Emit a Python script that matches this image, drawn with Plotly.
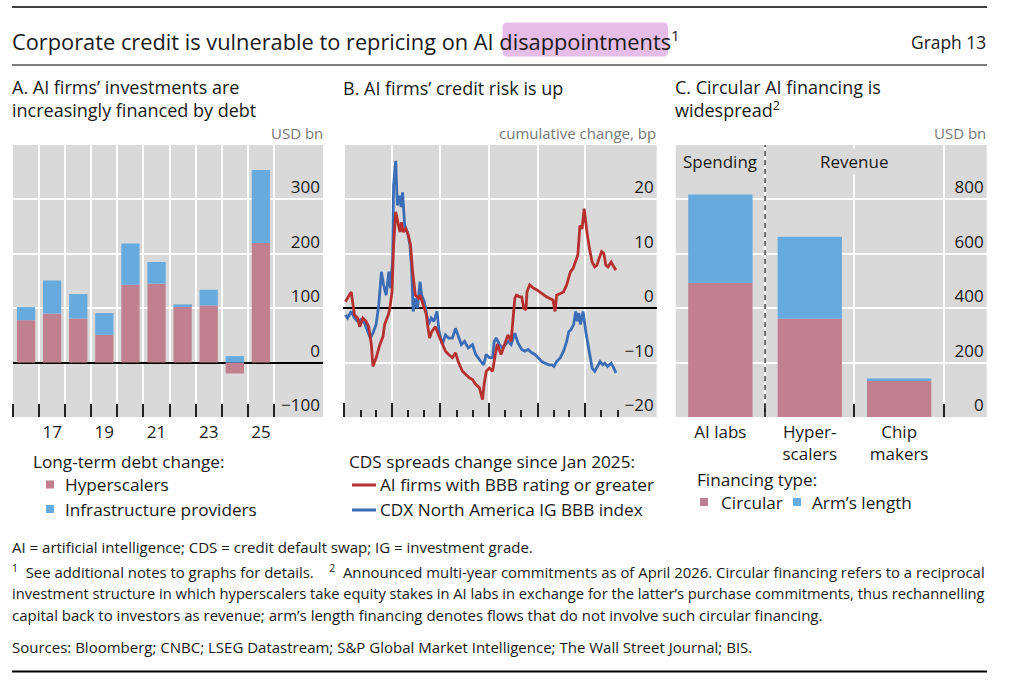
import plotly.graph_objects as go

W, H = 1016, 693

# ---------------- data ----------------
# Panel A: long-term debt change, USD bn
years = list(range(2016, 2026))
hyperscalers = [78, 90, 81, 51, 143, 145, 104, 105, -20, 220]
infrastructure = [24, 61, 45, 40, 76, 40, 3, 29, 12, 134]
year_ticks = [2017, 2019, 2021, 2023, 2025]
year_labels = ["17", "19", "21", "23", "25"]
a_yticks = [-100, 0, 100, 200, 300]

# Panel B: CDS spreads, cumulative change since Jan 2025, bp
ai_dates = [
    "2025-01-03", "2025-01-14", "2025-01-20", "2025-01-26", "2025-01-30", "2025-02-05",
    "2025-02-11", "2025-02-16", "2025-02-21", "2025-02-24", "2025-03-02", "2025-03-09",
    "2025-03-15", "2025-03-18", "2025-03-25", "2025-03-28", "2025-04-01", "2025-04-04",
    "2025-04-08", "2025-04-13", "2025-04-16", "2025-04-19", "2025-04-22", "2025-04-27",
    "2025-05-02", "2025-05-06", "2025-05-10", "2025-05-15", "2025-05-21", "2025-05-24",
    "2025-05-30", "2025-06-05", "2025-06-07", "2025-06-11", "2025-06-15", "2025-06-22",
    "2025-06-28", "2025-07-05", "2025-07-11", "2025-07-17", "2025-07-24", "2025-07-30",
    "2025-08-04", "2025-08-12", "2025-08-18", "2025-08-25", "2025-08-31", "2025-09-06",
    "2025-09-13", "2025-09-19", "2025-09-22", "2025-09-26", "2025-10-02", "2025-10-08",
    "2025-10-13", "2025-10-17", "2025-10-24", "2025-10-31", "2025-11-06", "2025-11-12",
    "2025-11-16", "2025-11-19", "2025-11-22", "2025-11-28", "2025-12-02", "2025-12-06",
    "2025-12-10", "2025-12-12", "2025-12-17", "2025-12-24", "2025-12-30", "2026-01-05",
    "2026-01-12", "2026-01-18", "2026-01-24", "2026-01-30", "2026-02-03", "2026-02-06",
    "2026-02-13", "2026-02-19", "2026-02-25", "2026-03-01", "2026-03-04", "2026-03-09",
    "2026-03-14", "2026-03-18", "2026-03-22", "2026-03-26", "2026-03-30", "2026-04-02",
    "2026-04-05", "2026-04-10", "2026-04-14", "2026-04-19", "2026-04-23", "2026-04-27",
    "2026-05-02", "2026-05-06", "2026-05-10", "2026-05-14", "2026-05-20", "2026-05-25",
    "2026-05-29",
]
ai_bbb = [
    1.2, 3.0, -1.2, -1.8, -3.4, -1.8,
    -2.4, -3.4, -6.7, -10.7, -9.1, -6.7,
    -5.2, -3.0, -1.2, 0.0, 3.0, 11.6,
    17.7, 15.2, 14.0, 15.8, 14.0, 14.6,
    13.4, 11.6, 6.7, 2.4, 1.8, 2.4,
    0.6, -1.2, -3.0, -5.5, -4.3, -3.4,
    -4.9, -6.7, -7.9, -8.5, -9.1, -8.2,
    -9.8, -11.6, -12.2, -12.8, -13.1, -14.0,
    -14.6, -16.8, -14.0, -11.6, -11.0, -11.6,
    -8.5, -6.6, -8.5, -6.7, -4.9, -6.1,
    -1.8, 1.8, 2.4, 2.1, 2.1, 0.0,
    -0.3, 3.0, 4.3, 3.7, 3.4, 3.0,
    2.4, 2.1, 1.8, 1.5, -0.6, 2.4,
    2.7, 3.0, 4.3, 5.5, 6.7, 7.3,
    8.5, 9.8, 15.2, 14.6, 18.3, 15.2,
    13.4, 10.4, 8.5, 7.6, 7.9, 9.1,
    10.4, 10.1, 7.9, 7.6, 8.5, 7.6,
    7.0,
]
cdx_dates = [
    "2025-01-03", "2025-01-07", "2025-01-14", "2025-01-20", "2025-01-26", "2025-02-01",
    "2025-02-08", "2025-02-14", "2025-02-19", "2025-02-24", "2025-03-02", "2025-03-07",
    "2025-03-12", "2025-03-16", "2025-03-21", "2025-03-26", "2025-03-29", "2025-04-02",
    "2025-04-04", "2025-04-08", "2025-04-11", "2025-04-15", "2025-04-18", "2025-04-21",
    "2025-04-25", "2025-04-30", "2025-05-05", "2025-05-08", "2025-05-11", "2025-05-15",
    "2025-05-19", "2025-05-24", "2025-05-27", "2025-06-01", "2025-06-05", "2025-06-09",
    "2025-06-14", "2025-06-19", "2025-06-25", "2025-06-29", "2025-07-05", "2025-07-11",
    "2025-07-17", "2025-07-24", "2025-07-30", "2025-08-04", "2025-08-10", "2025-08-16",
    "2025-08-23", "2025-08-31", "2025-09-06", "2025-09-16", "2025-09-21", "2025-09-26",
    "2025-10-02", "2025-10-08", "2025-10-11", "2025-10-15", "2025-10-21", "2025-10-27",
    "2025-11-06", "2025-11-12", "2025-11-19", "2025-11-25", "2025-12-02", "2025-12-08",
    "2025-12-14", "2025-12-21", "2025-12-27", "2026-01-02", "2026-01-09", "2026-01-15",
    "2026-01-22", "2026-01-28", "2026-02-01", "2026-02-06", "2026-02-13", "2026-02-19",
    "2026-02-25", "2026-03-01", "2026-03-05", "2026-03-10", "2026-03-14", "2026-03-17",
    "2026-03-20", "2026-03-23", "2026-03-28", "2026-04-02", "2026-04-06", "2026-04-10",
    "2026-04-14", "2026-04-19", "2026-04-24", "2026-04-29", "2026-05-04", "2026-05-08",
    "2026-05-13", "2026-05-20", "2026-05-25", "2026-05-29",
]
cdx_bbb = [
    -1.2, -1.8, -0.6, -1.8, -2.4, -2.1,
    -2.7, -4.3, -5.5, -4.6, -3.0, 0.6,
    6.7, 4.3, 2.4, 6.7, 3.7, 8.5,
    22.6, 27.1, 18.9, 20.7, 18.6, 21.3,
    15.2, 14.0, 11.6, 7.3, -0.6, 1.8,
    0.0, 4.9, 2.4, 1.2, -1.2, -3.0,
    -1.8, -2.4, -0.6, -4.3, -6.7, -4.9,
    -5.5, -5.5, -3.7, -4.9, -6.7, -6.1,
    -7.3, -6.7, -8.5, -9.8, -10.4, -8.5,
    -9.1, -9.1, -6.1, -5.5, -6.7, -7.3,
    -6.1, -6.7, -4.6, -6.4, -7.6, -7.9,
    -7.6, -8.2, -8.5, -9.1, -9.8, -10.1,
    -10.4, -10.4, -10.7, -9.8, -9.1, -7.9,
    -6.1, -4.3, -4.0, -3.0, -0.6, -2.4,
    -0.9, -3.0, -0.6, -4.3, -6.7, -9.1,
    -11.0, -11.6, -10.7, -9.8, -10.4, -10.1,
    -10.7, -10.1, -11.0, -11.9,
]
quarter_starts = ["2025-01-01", "2025-04-01", "2025-07-01", "2025-10-01", "2026-01-01", "2026-04-01"]
month_starts = ["2025-02-01", "2025-03-01", "2025-05-01", "2025-06-01", "2025-08-01", "2025-09-01",
                "2025-11-01", "2025-12-01", "2026-02-01", "2026-03-01", "2026-05-01", "2026-06-01"]
quarter_label_dates = ["2025-05-16", "2025-11-15", "2026-05-16"]
quarter_labels = ["Q2 25", "Q4 25", "Q2 26"]
b_yticks = [-20, -10, 0, 10, 20]

# Panel C: announced multi-year commitments, USD bn
entities = ["AI labs", "Hyper-<br>scalers", "Chip<br>makers"]
circular = [493, 361, 135]
arms_length = [325, 302, 7]
c_yticks = [0, 200, 400, 600, 800]

# ---------------- style ----------------
FONT = "Open Sans"
TXT = "#1a1a1a"
GREY_TXT = "#777777"
BG = "#d9d9d9"
PINK = "#c1808f"
LBLUE = "#66aade"
RED = "#b5302f"
DBLUE = "#3a6db5"
TICK = 17
LEG = 17.2


def X(p):
    return p / W


def Y(p):
    return 1 - p / H


top, bottom = 145, 417
ydom = [Y(bottom), Y(top)]

fig = go.Figure()

# Panel A bars
fig.add_trace(go.Bar(x=years, y=hyperscalers, name="Hyperscalers", marker=dict(color=PINK, line=dict(width=0)),
                     width=0.7, xaxis="x", yaxis="y", showlegend=False))
fig.add_trace(go.Bar(x=years, y=infrastructure, name="Infrastructure providers",
                     marker=dict(color=LBLUE, line=dict(width=0)),
                     width=0.7, xaxis="x", yaxis="y", showlegend=False))

# Panel B lines (blue drawn first, red on top)
fig.add_trace(go.Scatter(x=cdx_dates, y=cdx_bbb, mode="lines", name="CDX North America IG BBB index",
                         line=dict(color=DBLUE, width=2.8), xaxis="x2", yaxis="y2", showlegend=False))
fig.add_trace(go.Scatter(x=ai_dates, y=ai_bbb, mode="lines", name="AI firms with BBB rating or greater",
                         line=dict(color=RED, width=2.8), xaxis="x2", yaxis="y2", showlegend=False))

# Panel C bars
cx = list(range(len(entities)))
fig.add_trace(go.Bar(x=cx, y=circular, name="Circular", marker=dict(color=PINK, line=dict(width=0)),
                     width=0.72, xaxis="x3", yaxis="y3", showlegend=False))
fig.add_trace(go.Bar(x=cx, y=arms_length, name="Arm’s length", marker=dict(color=LBLUE, line=dict(width=0)),
                     width=0.72, xaxis="x3", yaxis="y3", showlegend=False))

tickfont = dict(family=FONT, size=TICK, color=TXT)

yax_common = dict(side="right", ticklabelposition="inside top", ticks="", showline=False,
                  showgrid=True, gridcolor="white", gridwidth=1.5, tickfont=tickfont,
                  domain=ydom, fixedrange=True)

layout = dict(
    width=W, height=H, margin=dict(l=0, r=0, t=0, b=0),
    paper_bgcolor="white", plot_bgcolor=BG, barmode="relative", showlegend=False,
    font=dict(family=FONT, color=TXT),
    # Panel A
    xaxis=dict(domain=[X(13), X(323)], anchor="y", range=[2015.5, 2027.38],
               tickmode="array", tickvals=year_ticks, ticktext=year_labels, ticks="",
               showgrid=False, zeroline=False, showline=False, tickfont=tickfont, ticklabelstandoff=3,
               minor=dict(tickmode="array", tickvals=[y - 0.5 for y in years] + [years[-1] + 0.5],
                          ticks="inside", ticklen=13, tickwidth=2, tickcolor="#222222",
                          showgrid=True, gridcolor="white", gridwidth=1.5)),
    yaxis=dict(anchor="x", range=[-100, 400], tickmode="array", tickvals=a_yticks,
               zeroline=True, zerolinecolor="black", zerolinewidth=1.5, **yax_common),
    # Panel B
    xaxis2=dict(domain=[X(343.3), X(656.7)], anchor="y2", type="date",
                range=["2024-12-30", "2026-08-14"], tickmode="array", tickvals=quarter_starts,
                showticklabels=False, ticks="inside", ticklen=14, tickwidth=2, tickcolor="#222222",
                showgrid=True, gridcolor="white", gridwidth=1.5, zeroline=False, showline=False,
                minor=dict(tickmode="array", tickvals=month_starts, ticks="inside", ticklen=7,
                           tickwidth=2, tickcolor="#222222", showgrid=False)),
    xaxis5=dict(overlaying="x2", anchor="y2", type="date", range=["2024-12-30", "2026-08-14"],
                tickmode="array", tickvals=quarter_label_dates, ticktext=quarter_labels, ticks="",
                showgrid=False, zeroline=False, showline=False, tickfont=tickfont, ticklabelstandoff=3),
    yaxis2=dict(anchor="x2", range=[-20, 30], tickmode="array", tickvals=b_yticks,
                zeroline=True, zerolinecolor="black", zerolinewidth=1.5, **yax_common),
    # Panel C
    xaxis3=dict(domain=[X(675.7), X(986.7)], anchor="y3", range=[-0.5, 2.98],
                tickmode="array", tickvals=cx, ticktext=entities, ticks="",
                showgrid=False, zeroline=False, showline=False, tickfont=tickfont, ticklabelstandoff=3,
                minor=dict(tickmode="array", tickvals=[0.5, 1.5, 2.5], ticks="inside", ticklen=13,
                           tickwidth=2, tickcolor="#222222", showgrid=True, gridcolor="white", gridwidth=1.5)),
    yaxis3=dict(anchor="x3", range=[0, 1000], tickmode="array", tickvals=c_yticks,
                zeroline=False, **yax_common),
)
fig.update_layout(**layout)

shapes = []
annotations = []


def text(s, x, y, size=LEG, xanchor="left", yanchor="middle", color=TXT, **kw):
    annotations.append(dict(text=s, x=X(x), y=Y(y), xref="paper", yref="paper", xanchor=xanchor,
                            yanchor=yanchor, showarrow=False, align="left", borderpad=0,
                            font=dict(family=FONT, size=size, color=color), **kw))


def hline(y, x0=12, x1=987, w=1.5):
    shapes.append(dict(type="line", xref="paper", yref="paper", x0=X(x0), x1=X(x1), y0=Y(y), y1=Y(y),
                       line=dict(color="black", width=w)))


def square(x0, yc, color, s=8):
    shapes.append(dict(type="rect", xref="paper", yref="paper", x0=X(x0), x1=X(x0 + s),
                       y0=Y(yc + s / 2), y1=Y(yc - s / 2), fillcolor=color, line=dict(width=0)))


def seg(x0, x1, yc, color):
    shapes.append(dict(type="line", xref="paper", yref="paper", x0=X(x0), x1=X(x1), y0=Y(yc), y1=Y(yc),
                       line=dict(color=color, width=3)))


# rules
hline(7, w=1.5)
hline(65, w=1.2)
hline(671.5, w=2)

# title highlight (rounded box)
hx0, hx1, hy0, hy1, r = 502.5, 668, 22.5, 56.5, 5
rx, ry = r / W, r / H
a0, a1, b0, b1 = X(hx0), X(hx1), Y(hy1), Y(hy0)
path = (f"M{a0 + rx},{b0} L{a1 - rx},{b0} Q{a1},{b0} {a1},{b0 + ry} L{a1},{b1 - ry} Q{a1},{b1} {a1 - rx},{b1} "
        f"L{a0 + rx},{b1} Q{a0},{b1} {a0},{b1 - ry} L{a0},{b0 + ry} Q{a0},{b0} {a0 + rx},{b0} Z")
shapes.append(dict(type="path", xref="paper", yref="paper", path=path, fillcolor="#e6bde6",
                   line=dict(width=0), layer="below"))

text("Corporate credit is vulnerable to repricing on AI disappointments<sup>1</sup>", 11, 40, size=21.8)
text("Graph 13", 987, 42, size=17.4, xanchor="right")

# panel titles
text("A. AI firms’ investments are<br>increasingly financed by debt", 11, 98, size=18)
text("B. AI firms’ credit risk is up", 342, 87.5, size=18)
text("C. Circular AI financing is<br>widespread<sup>2</sup>", 674, 98, size=18)

# units
text("USD bn", 324, 133, size=15, xanchor="right", color=GREY_TXT)
text("cumulative change, bp", 657, 133, size=15, xanchor="right", color=GREY_TXT)
text("USD bn", 987, 133, size=15, xanchor="right", color=GREY_TXT)

# panel C separators and section labels
shapes.append(dict(type="line", xref="x3", yref="y3 domain", x0=0.5, x1=0.5, y0=0, y1=1,
                   line=dict(color=BG, width=2.5), layer="below"))
shapes.append(dict(type="line", xref="x3", yref="y3 domain", x0=0.5, x1=0.5, y0=0, y1=1,
                   line=dict(color="#444444", width=1.5, dash="5px,4px")))
annotations.append(dict(text="Spending", x=0, y=Y(162), xref="x3", yref="paper", showarrow=False,
                        xanchor="center", yanchor="middle", font=dict(family=FONT, size=TICK, color=TXT)))
annotations.append(dict(text="Revenue", x=1.5, y=Y(162), xref="x3", yref="paper", showarrow=False,
                        xanchor="center", yanchor="middle", bgcolor=BG,
                        font=dict(family=FONT, size=TICK, color=TXT)))

# legend A
text("Long-term debt change:", 32, 461.5)
square(46, 484.5, PINK)
text("Hyperscalers", 64, 484.5)
square(46, 509, LBLUE)
text("Infrastructure providers", 64, 509)

# legend B
text("CDS spreads change since Jan 2025:", 348, 461.5)
seg(352, 376, 485, RED)
text("AI firms with BBB rating or greater", 379, 484.5)
seg(352, 376, 510, DBLUE)
text("CDX North America IG BBB index", 379, 509)

# legend C
text("Financing type:", 696, 479.5)
square(700, 502, PINK)
text("Circular", 720, 502)
square(793, 502, LBLUE)
text("Arm’s length", 811, 502)

# footnotes
text("AI = artificial intelligence; CDS = credit default swap; IG = investment grade.", 11, 547, size=15)
text("<sup>1</sup>  See additional notes to graphs for details.    <sup>2</sup>  Announced multi-year commitments "
     "as of April 2026. Circular financing refers to a reciprocal", 11, 571, size=14.9)
text("investment structure in which hyperscalers take equity stakes in AI labs in exchange for the latter’s "
     "purchase commitments, thus rechannelling", 11, 593, size=14.7)
text("capital back to investors as revenue; arm’s length financing denotes flows that do not involve such "
     "circular financing.", 11, 615, size=15)
text("Sources: Bloomberg; CNBC; LSEG Datastream; S&amp;P Global Market Intelligence; The Wall Street Journal; BIS.",
     11, 647, size=15)

fig.update_layout(shapes=shapes, annotations=annotations)
fig.write_html("out.html", config={"displayModeBar": False},
               post_script="document.body.style.margin='0px';")
